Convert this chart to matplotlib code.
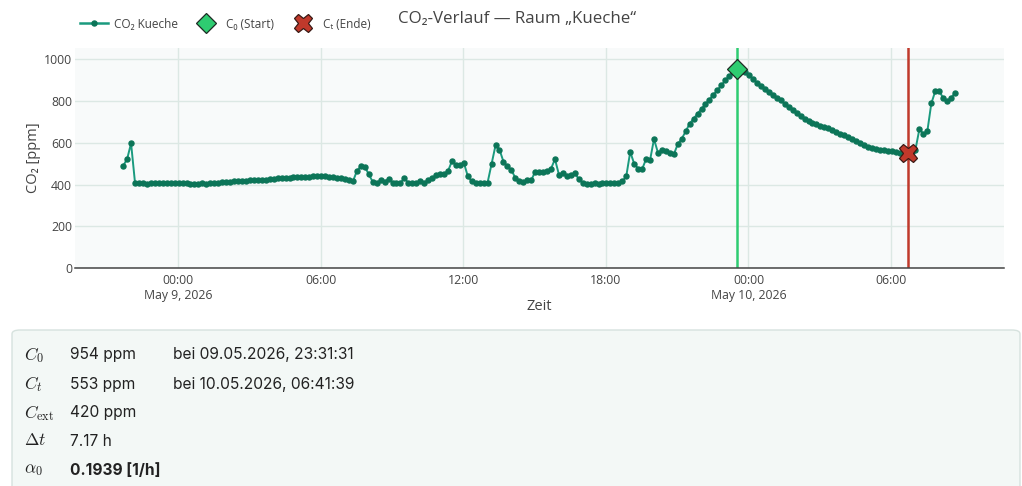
import matplotlib
matplotlib.use("Agg")
import matplotlib.pyplot as plt
from matplotlib.lines import Line2D
from matplotlib.patches import FancyBboxPatch
import pandas as pd

# ---------------- data ----------------
start_time = "2026-05-08 21:41:31"
sample_interval = "10min"
co2_ppm = [
    490, 522, 598, 408, 408, 407, 405, 408, 406, 409,
    406, 407, 408, 407, 407, 406, 406, 405, 405, 405,
    406, 405, 406, 409, 410, 411, 412, 414, 415, 416,
    417, 418, 420, 421, 421, 422, 424, 426, 428, 430,
    431, 432, 433, 434, 435, 436, 437, 438, 439, 440,
    440, 439, 438, 436, 433, 430, 426, 422, 415, 465,
    488, 486, 450, 413, 408, 420, 413, 428, 410, 409,
    410, 430, 408, 409, 410, 415, 407, 424, 430, 446,
    453, 452, 465, 512, 493, 495, 505, 440, 415, 410,
    410, 410, 410, 500, 588, 568, 510, 487, 470, 432,
    418, 411, 420, 420, 462, 458, 462, 465, 476, 522,
    448, 455, 441, 444, 455, 427, 408, 405, 405, 406,
    405, 406, 407, 408, 408, 410, 415, 440, 557, 500,
    477, 474, 522, 517, 618, 553, 565, 559, 553, 545,
    594, 620, 655, 692, 716, 740, 764, 785, 808, 831,
    853, 876, 900, 921, 941, 954, 948, 938, 924, 906,
    889, 872, 857, 842, 829, 817, 805, 786, 772, 757,
    741, 728, 715, 705, 697, 690, 683, 677, 669, 661,
    653, 644, 636, 628, 620, 609, 598, 589, 581, 576,
    571, 568, 565, 563, 560, 556, 553, 550, 553, 556,
    568, 667, 643, 656, 789, 848, 851, 813, 800, 816, 840,
]
c0_time = "2026-05-09 23:31:31"
c0_value = 954
ct_time = "2026-05-10 06:41:39"
ct_value = 553

x_tick_times = ["2026-05-09 00:00", "2026-05-09 06:00", "2026-05-09 12:00",
                "2026-05-09 18:00", "2026-05-10 00:00", "2026-05-10 06:00"]
x_tick_labels = ["00:00\nMay 9, 2026", "06:00", "12:00", "18:00",
                 "00:00\nMay 10, 2026", "06:00"]
x_range = ["2026-05-08 19:40", "2026-05-10 10:45"]
y_ticks = [0, 200, 400, 600, 800, 1000]

info_symbols = [r"$C_0$", r"$C_t$", r"$C_{\mathrm{ext}}$", r"$\Delta t$", r"$\alpha_0$"]
info_values = ["954 ppm", "553 ppm", "420 ppm", "7.17 h", "0.1939 [1/h]"]
info_notes = ["bei 09.05.2026, 23:31:31", "bei 10.05.2026, 06:41:39", "", "", ""]

# ---------------- style ----------------
plt.rcParams['font.family'] = ['Open Sans', 'DejaVu Sans']
plt.rcParams['mathtext.fontset'] = 'cm'

W, H = 1022, 486
fig = plt.figure(figsize=(W / 100, H / 100), dpi=100)
fig.patch.set_facecolor('white')

def fx(px):
    return px / W

def fy(py):
    return 1 - py / H

ax_left, ax_right, ax_top, ax_bottom = 75, 1004, 48, 268
ax = fig.add_axes([fx(ax_left), fy(ax_bottom), fx(ax_right - ax_left), (ax_bottom - ax_top) / H])
ax.set_facecolor('#f8fafa')

times = pd.date_range(start_time, periods=len(co2_ppm), freq=sample_interval)

line_col = '#1a9a7e'
mark_col = '#0c7558'
ax.plot(times, co2_ppm, color=line_col, lw=1.4, marker='o', ms=3.6,
        mfc=mark_col, mec=mark_col, zorder=3)

t0 = pd.Timestamp(c0_time)
tt = pd.Timestamp(ct_time)
ax.axvline(t0, color='#2ecc71', lw=1.8, zorder=2)
ax.axvline(tt, color='#c0392b', lw=1.8, zorder=2)
ax.plot([t0], [c0_value], marker='D', ms=10, mfc='#2ecc71', mec='#1d2b24',
        mew=0.9, ls='none', zorder=5)
ax.plot([tt], [ct_value], marker='X', ms=13, mfc='#c0392b', mec='#3a1a15',
        mew=0.9, ls='none', zorder=5)

ax.set_xlim(pd.Timestamp(x_range[0]), pd.Timestamp(x_range[1]))
ax.set_ylim(0, 1055)
ax.set_xticks([pd.Timestamp(t) for t in x_tick_times])
ax.set_xticklabels(x_tick_labels, fontsize=8.8, color='#444444', linespacing=1.25)
ax.set_yticks(y_ticks)
ax.set_yticklabels([str(v) for v in y_ticks], fontsize=8.8, color='#444444')
ax.tick_params(axis='x', length=0, pad=4)
ax.tick_params(axis='y', length=0, pad=2)
ax.grid(True, color='#dce8e4', lw=1)
ax.set_axisbelow(True)
for s in ['top', 'right', 'left']:
    ax.spines[s].set_visible(False)
ax.spines['bottom'].set_color('#444444')
ax.spines['bottom'].set_linewidth(1.1)

ax.set_xlabel("Zeit", fontsize=10.5, color='#444444')
ax.set_ylabel("CO₂ [ppm]", fontsize=10.5, color='#444444')
aw = ax_right - ax_left
ah = ax_bottom - ax_top
ax.xaxis.set_label_coords((539.5 - ax_left) / aw, (ax_bottom - 299) / ah)
ax.yaxis.set_label_coords((41 - ax_left) / aw, (ax_bottom - 158) / ah)

# title & legend
fig.text(fx(517), fy(19), "CO₂-Verlauf — Raum „Kueche“", ha='center', va='center',
         fontsize=12.2, color='#444444')
handles = [
    Line2D([], [], color=line_col, lw=1.8, marker='o', ms=3.6, mfc=mark_col, mec=mark_col),
    Line2D([], [], ls='none', marker='D', ms=10, mfc='#2ecc71', mec='#1d2b24', mew=0.9),
    Line2D([], [], ls='none', marker='X', ms=13, mfc='#c0392b', mec='#3a1a15', mew=0.9),
]
labels = ["CO₂ Kueche", "C₀ (Start)", "Cₜ (Ende)"]
fig.legend(handles, labels, loc='center left', bbox_to_anchor=(fx(69), fy(24)),
           ncol=3, frameon=False, handlelength=2.4,
           handletextpad=0.5, columnspacing=1.2, labelcolor='#444444',
           prop={'family': ['Open Sans', 'DejaVu Sans'], 'size': 8.5})

# info panel
box = FancyBboxPatch((fx(12), fy(500)), fx(1008), (500 - 330) / H,
                     boxstyle="round,pad=0,rounding_size=0.008",
                     transform=fig.transFigure, facecolor='#f3f8f6',
                     edgecolor='#d6e2de', lw=1.0, zorder=0)
fig.patches.append(box)

row_y = [355, 384, 413, 441, 470]
for sym, val, note, y in zip(info_symbols, info_values, info_notes, row_y):
    fig.text(fx(24), fy(y), sym, fontsize=12.5, color='#222222', va='center', ha='left')
    fig.text(fx(70), fy(y), val, fontsize=11.2, color='#222222', va='center', ha='left',
             family=['Inter', 'DejaVu Sans'],
             fontweight='bold' if val.endswith('[1/h]') else 'normal')
    if note:
        fig.text(fx(173), fy(y), note, fontsize=11.2, color='#222222', va='center',
                 ha='left', family=['Inter', 'DejaVu Sans'])

fig.savefig("out.png", dpi=100, facecolor='white')
